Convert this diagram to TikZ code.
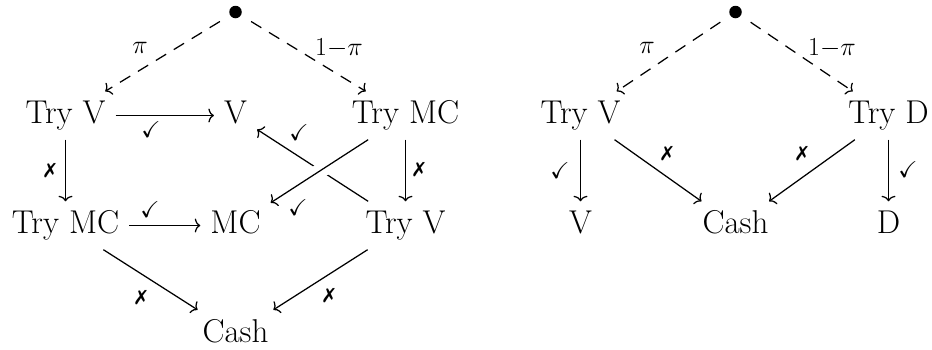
\RequirePackage{fix-cm}
\documentclass[tikz,border=0pt]{standalone}
\usepackage{amssymb}
\usepackage{pifont}
\usetikzlibrary{arrows.meta}
\begin{document}
\begin{tikzpicture}[x=1pt,y=-1pt,
  cell/.style={inner sep=10pt, text height=22pt, text depth=6pt, font=\fontsize{33}{40}\selectfont, anchor=base},
  dotcell/.style={circle, fill, inner sep=0pt, minimum size=12.5pt, outer sep=12pt},
  lbl/.style={inner sep=0pt, font=\fontsize{26}{31}\selectfont},
  klbl/.style={inner sep=0pt, font=\fontsize{23}{28}\selectfont},
  xlbl/.style={inner sep=0pt, font=\fontsize{20}{24}\selectfont},
  arr/.style={line width=1.25pt, -{Computer Modern Rightarrow[length=5.5pt,width=14pt]}},
  darr/.style={arr, dash pattern=on 12pt off 9pt},
  over/.style={preaction={draw=white, line width=15pt, -}},
]
\useasboundingbox (0,0) rectangle (932,349);
% left diagram
\node[dotcell] (d1) at (235.5,12) {};
\node[cell] (tv1) at (65.5,123.5) {Try V};
\node[cell] (v1) at (235.5,123.5) {V};
\node[cell] (tm1) at (405.5,123.5) {Try MC};
\node[cell] (tm2) at (65.5,233.5) {Try MC};
\node[cell] (mc) at (235.5,233.5) {MC};
\node[cell] (tv2) at (405.5,233.5) {Try V};
\node[cell] (c1) at (235.5,342) {Cash};
\draw[darr] (d1) -- (tv1);
\draw[darr] (d1) -- (tm1);
\draw[arr] (tv1) -- (v1);
\draw[arr] (tv1) -- (tm2);
\draw[arr] (tm1) -- (tv2);
\draw[arr] (tm2) -- (mc);
\draw[arr] (tv2) -- (v1);
\draw[arr, over] (tm1) -- (mc);
\draw[arr] (tm2) -- (c1);
\draw[arr] (tv2) -- (c1);
\node[lbl] (p1) at (140,48) {$\pi$};
\node[lbl] (q1) at (339,48) {$1{-}\pi$};
\node[klbl] (k1) at (151,130) {$\checkmark$};
\node[klbl] (k2) at (299,133) {$\checkmark$};
\node[klbl] (k3) at (298,208) {$\checkmark$};
\node[klbl] (k4) at (150,210) {$\checkmark$};
\node[xlbl] (x1) at (50,171) {\ding{55}};
\node[xlbl] (x2) at (419,170) {\ding{55}};
\node[xlbl] (x3) at (141,298) {\ding{55}};
\node[xlbl] (x4) at (329,296) {\ding{55}};
% right diagram
\node[dotcell] (d2) at (735.5,12) {};
\node[cell] (tv3) at (580.5,123.5) {Try V};
\node[cell] (td) at (888.5,123.5) {Try D};
\node[cell] (v2) at (580.5,233.5) {V};
\node[cell] (c2) at (735.5,233.5) {Cash};
\node[cell] (dd) at (888.5,233.5) {D};
\draw[darr] (d2) -- (tv3);
\draw[darr] (d2) -- (td);
\draw[arr] (tv3) -- (v2);
\draw[arr] (tv3) -- (c2);
\draw[arr] (td) -- (c2);
\draw[arr] (td) -- (dd);
\node[lbl] (p2) at (647,48) {$\pi$};
\node[lbl] (q2) at (832,48) {$1{-}\pi$};
\node[klbl] (k5) at (560,171) {$\checkmark$};
\node[klbl] (k6) at (908,170) {$\checkmark$};
\node[xlbl] (x5) at (667,154) {\ding{55}};
\node[xlbl] (x6) at (802,154) {\ding{55}};
\end{tikzpicture}
\end{document}
